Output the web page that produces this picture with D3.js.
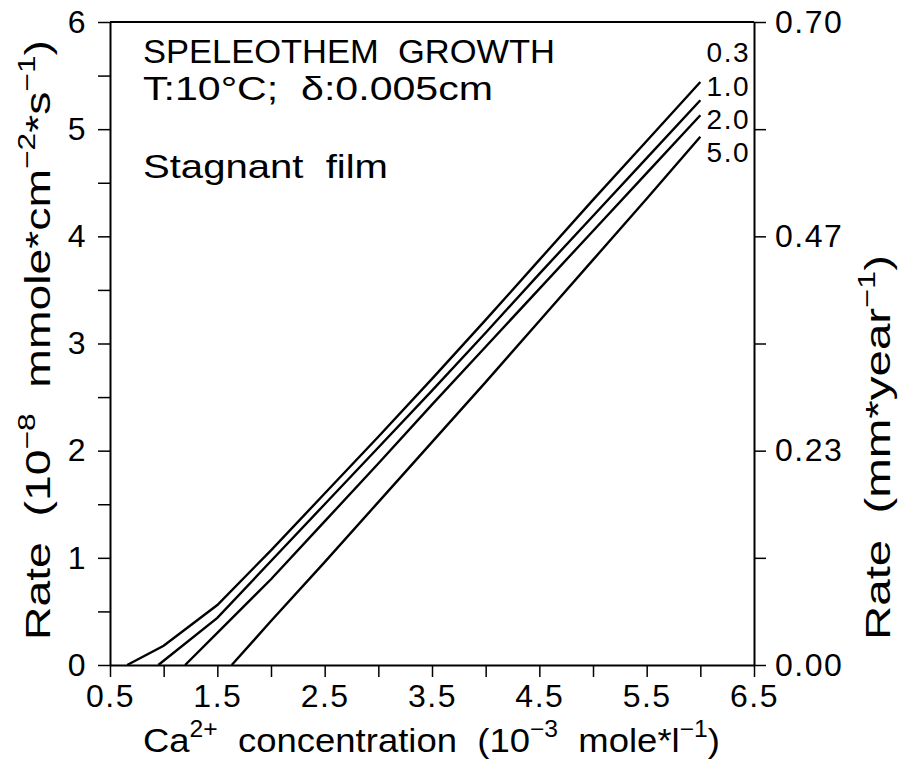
<!DOCTYPE html>
<html>
<head>
<meta charset="utf-8">
<script src="https://cdn.jsdelivr.net/npm/d3@7"></script>
<style>
 body { margin: 0; background: #fff; }
 svg text { font-family: "Liberation Sans", Arial, sans-serif; fill: #000; }
</style>
</head>
<body>
<div id="chart"></div>
<script>
// film thickness labels for each curve
const seriesNames = ["0.3", "1.0", "2.0", "5.0"];

// Ca2+ concentration (10^-3 mole/l) and rate (10^-8 mmole cm^-2 s^-1)
const ca03 = [0.66, 1.0, 1.5, 2.0, 2.5, 3.0, 3.5, 4.0, 4.5, 5.0, 5.5, 6.0];
const rate03 = [0, 0.18, 0.56, 1.07, 1.6, 2.13, 2.67, 3.22, 3.78, 4.34, 4.89, 5.44];
const ca10 = [0.95, 1.5, 2.0, 2.5, 3.0, 3.5, 4.0, 4.5, 5.0, 5.5, 6.0];
const rate10 = [0, 0.44, 0.97, 1.5, 2.03, 2.56, 3.1, 3.65, 4.19, 4.73, 5.27];
const ca20 = [1.2, 1.5, 2.0, 2.5, 3.0, 3.5, 4.0, 4.5, 5.0, 5.5, 6.0];
const rate20 = [0, 0.3, 0.8, 1.34, 1.88, 2.43, 2.97, 3.51, 4.05, 4.59, 5.13];
const ca50 = [1.634, 2.0, 2.5, 3.0, 3.5, 4.0, 4.5, 5.0, 5.5, 6.0];
const rate50 = [0, 0.41, 0.96, 1.52, 2.08, 2.64, 3.21, 3.78, 4.35, 4.93];

const xTickValues = [0.5, 1.0, 1.5, 2.0, 2.5, 3.0, 3.5, 4.0, 4.5, 5.0, 5.5, 6.0, 6.5];
const xTickLabels = ["0.5", "", "1.5", "", "2.5", "", "3.5", "", "4.5", "", "5.5", "", "6.5"];
const yTickValues = [0, 0.5, 1, 1.5, 2, 2.5, 3, 3.5, 4, 4.5, 5, 5.5, 6];
const yTickLabels = ["0", "", "1", "", "2", "", "3", "", "4", "", "5", "", "6"];
const rightMax = 0.70;
const rightTickLabels = ["0.00", "", "0.23", "", "0.47", "", "0.70"];

const drawChart = (element) => {
 const width = 901, height = 769;
 const margin = { top: 22, right: 147, bottom: 104, left: 110 };

 const svg = d3.select(element).append("svg")
  .attr("width", width)
  .attr("height", height);

 const x = d3.scaleLinear().domain([0.5, 6.5]).range([margin.left, width - margin.right]);
 const y = d3.scaleLinear().domain([0, 6]).range([height - margin.bottom, margin.top]);
 const yRight = d3.scaleLinear().domain([0, rightMax]).range(y.range());
 const rightTickValues = rightTickLabels.map((d, i) => rightMax * i / 6);

 const styleAxis = (g) => {
  g.select(".domain").attr("stroke-width", 2);
  g.selectAll(".tick line").attr("stroke-width", 1.5);
  g.selectAll(".tick text")
   .style("font-size", "32px")
   .style("letter-spacing", "1.5px")
   .attr("fill", "#000");
 };

 svg.append("g")
  .attr("transform", `translate(0,${y(0)})`)
  .call(d3.axisBottom(x).tickValues(xTickValues)
   .tickFormat((d, i) => xTickLabels[i]).tickSize(12).tickSizeOuter(0).tickPadding(7))
  .call(styleAxis);

 svg.append("g")
  .attr("transform", `translate(${x(0.5)},0)`)
  .call(d3.axisLeft(y).tickValues(yTickValues)
   .tickFormat((d, i) => yTickLabels[i]).tickSize(12).tickSizeOuter(0).tickPadding(11))
  .call(styleAxis);

 svg.append("g")
  .attr("transform", `translate(${x(6.5)},0)`)
  .call(d3.axisRight(yRight).tickValues(rightTickValues)
   .tickFormat((d, i) => rightTickLabels[i]).tickSize(12).tickSizeOuter(0).tickPadding(9))
  .call(styleAxis);

 svg.append("line")
  .attr("x1", x(0.5)).attr("x2", x(6.5))
  .attr("y1", y(6)).attr("y2", y(6))
  .attr("stroke", "#000").attr("stroke-width", 2);

 const series = [
  d3.zip(ca03, rate03),
  d3.zip(ca10, rate10),
  d3.zip(ca20, rate20),
  d3.zip(ca50, rate50)
 ];

 const line = d3.line().x((d) => x(d[0])).y((d) => y(d[1]));

 svg.append("g").selectAll("path")
  .data(series)
  .join("path")
  .attr("d", line)
  .attr("fill", "none")
  .attr("stroke", "#000")
  .attr("stroke-width", 2.4);

 // curve labels beside the line ends, nudged apart so they don't collide
 const labelNudge = [-20, -4, 14, 25];
 svg.append("g").selectAll("text")
  .data(seriesNames)
  .join("text")
  .attr("x", x(6.5) - 4)
  .attr("y", (d, i) => {
   const s = series[i];
   return y(s[s.length - 1][1]) + labelNudge[i];
  })
  .attr("text-anchor", "end")
  .style("font-size", "28px")
  .style("letter-spacing", "1.5px")
  .text((d) => d);

 // annotation block
 const note = svg.append("g").style("font-size", "34px");
 note.append("text").attr("x", 143).attr("y", 63)
  .attr("textLength", 412).attr("lengthAdjust", "spacingAndGlyphs")
  .style("white-space", "pre").text("SPELEOTHEM  GROWTH");
 note.append("text").attr("x", 143).attr("y", 100)
  .attr("textLength", 350).attr("lengthAdjust", "spacingAndGlyphs")
  .style("white-space", "pre").text("T:10°C;  δ:0.005cm");
 note.append("text").attr("x", 143).attr("y", 178)
  .attr("textLength", 245).attr("lengthAdjust", "spacingAndGlyphs")
  .style("white-space", "pre").text("Stagnant  film");

 // x axis title
 const xt = svg.append("text")
  .attr("x", 143).attr("y", 752)
  .attr("textLength", 577).attr("lengthAdjust", "spacingAndGlyphs")
  .style("font-size", "34px").style("white-space", "pre");
 xt.append("tspan").text("Ca");
 xt.append("tspan").attr("dy", -15).style("font-size", "23px").text("2+");
 xt.append("tspan").attr("dy", 15).text("  concentration  (10");
 xt.append("tspan").attr("dy", -15).style("font-size", "23px").text("−3");
 xt.append("tspan").attr("dy", 15).text("  mole*l");
 xt.append("tspan").attr("dy", -15).style("font-size", "23px").text("−1");
 xt.append("tspan").attr("dy", 15).text(")");

 // left y title
 const yl = svg.append("text")
  .attr("transform", "translate(50,640) rotate(-90)")
  .attr("textLength", 600).attr("lengthAdjust", "spacingAndGlyphs")
  .style("font-size", "35px").style("white-space", "pre");
 yl.append("tspan").text("Rate  (10");
 yl.append("tspan").attr("dy", -15).style("font-size", "24px").text("−8");
 yl.append("tspan").attr("dy", 15).text("  mmole*cm");
 yl.append("tspan").attr("dy", -15).style("font-size", "24px").text("−2");
 yl.append("tspan").attr("dy", 15).text("*s");
 yl.append("tspan").attr("dy", -15).style("font-size", "24px").text("−1");
 yl.append("tspan").attr("dy", 15).text(")");

 // right y title
 const yr = svg.append("text")
  .attr("transform", "translate(890,640) rotate(-90)")
  .attr("textLength", 385).attr("lengthAdjust", "spacingAndGlyphs")
  .style("font-size", "35px").style("white-space", "pre");
 yr.append("tspan").text("Rate  (mm*year");
 yr.append("tspan").attr("dy", -15).style("font-size", "24px").text("−1");
 yr.append("tspan").attr("dy", 15).text(")");
};

drawChart(document.getElementById("chart"));
</script>
</body>
</html>
